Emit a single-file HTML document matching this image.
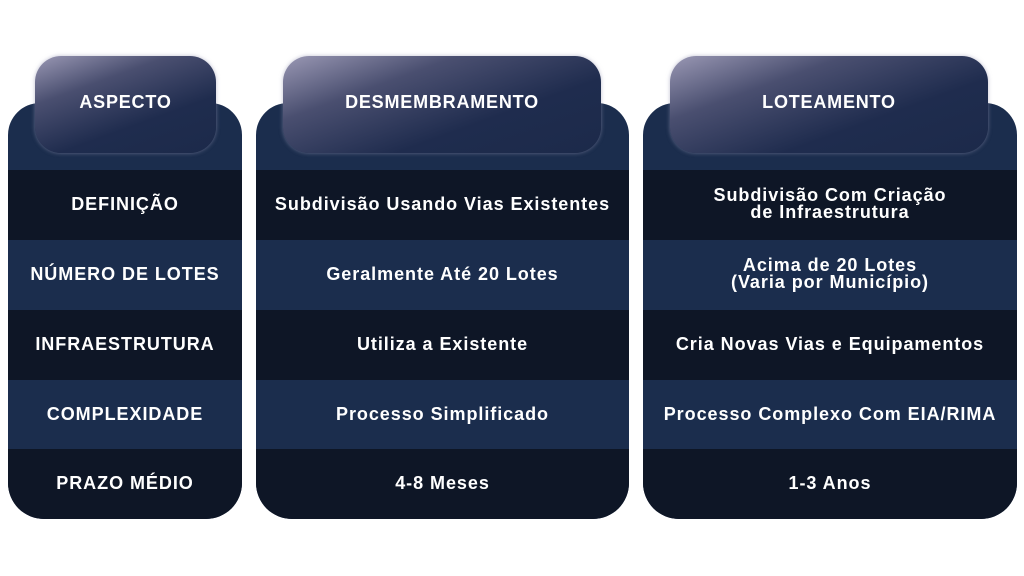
<!DOCTYPE html>
<html><head><meta charset="utf-8"><style>
body{margin:0;width:1024px;height:576px;background:#fff;position:relative;overflow:hidden;font-family:"Liberation Sans",sans-serif;font-weight:bold;color:#fff}
.col{position:absolute;top:103px;height:416px;background:#1b2d4d;border-radius:32px 32px 36px 36px;overflow:hidden}
.row{position:absolute;left:0;right:0;height:70px;display:flex;align-items:center;justify-content:center;text-align:center;font-size:18px;letter-spacing:0.95px;line-height:17px;padding-bottom:2px;box-sizing:border-box}
.d{background:#0e1626}.l{background:#1b2d4d}
.tab{position:absolute;top:56px;height:97px;border-radius:26px;background:linear-gradient(160deg,#9a98b4 0%,#4a4f70 30%,#1f2c4e 65%,#1c2a4a 100%);box-shadow:0 0 4px rgba(150,150,180,.6);display:flex;align-items:center;justify-content:center;font-size:18px;letter-spacing:0.8px;padding-bottom:4px;box-sizing:border-box}
</style></head><body>
<div class="col" style="left:8px;width:234px">
<div class="row d" style="top:67px">DEFINIÇÃO</div>
<div class="row l" style="top:137px">NÚMERO DE LOTES</div>
<div class="row d" style="top:207px">INFRAESTRUTURA</div>
<div class="row l" style="top:277px">COMPLEXIDADE</div>
<div class="row d" style="top:346px">PRAZO MÉDIO</div>
</div>
<div class="col" style="left:256px;width:373px">
<div class="row d" style="top:67px">Subdivisão Usando Vias Existentes</div>
<div class="row l" style="top:137px">Geralmente Até 20 Lotes</div>
<div class="row d" style="top:207px">Utiliza a Existente</div>
<div class="row l" style="top:277px">Processo Simplificado</div>
<div class="row d" style="top:346px">4-8 Meses</div>
</div>
<div class="col" style="left:643px;width:374px">
<div class="row d" style="top:67px">Subdivisão Com Criação<br>de Infraestrutura</div>
<div class="row l" style="top:137px">Acima de 20 Lotes<br>(Varia por Município)</div>
<div class="row d" style="top:207px">Cria Novas Vias e Equipamentos</div>
<div class="row l" style="top:277px">Processo Complexo Com EIA/RIMA</div>
<div class="row d" style="top:346px">1-3 Anos</div>
</div>
<div class="tab" style="left:35px;width:181px">ASPECTO</div>
<div class="tab" style="left:283px;width:318px">DESMEMBRAMENTO</div>
<div class="tab" style="left:670px;width:318px">LOTEAMENTO</div>
</body></html>
